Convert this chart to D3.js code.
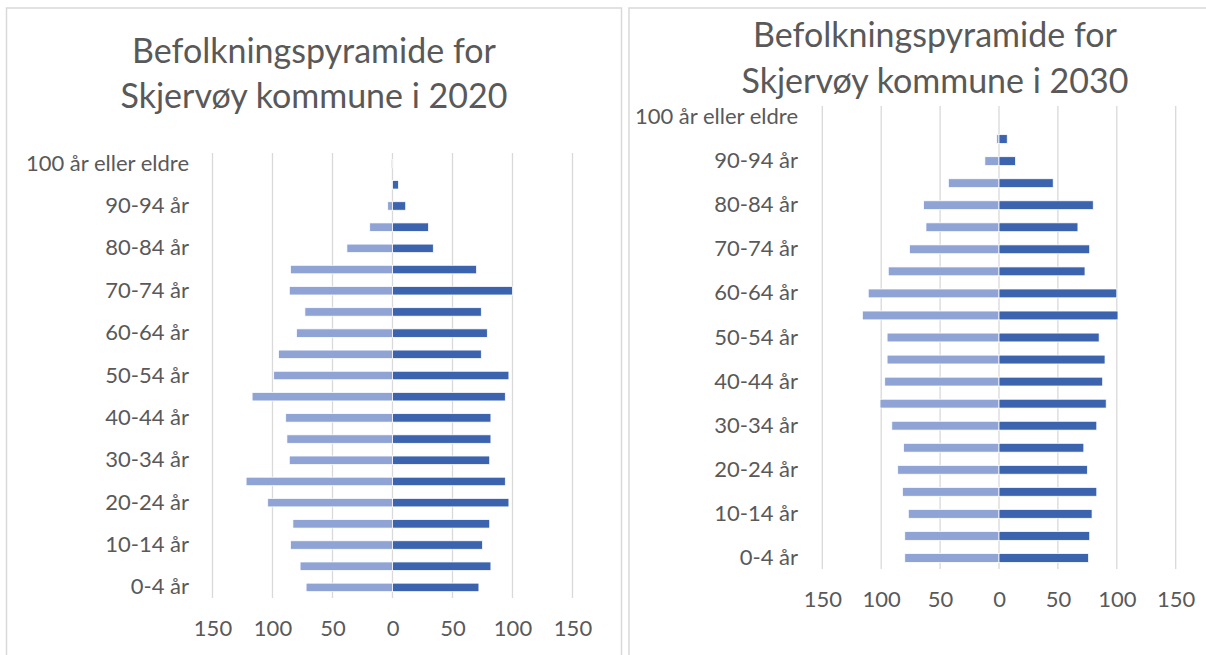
<!DOCTYPE html>
<html>
<head>
<meta charset="utf-8">
<script src="https://cdn.jsdelivr.net/npm/d3@7"></script>
<style>
body { margin: 0; background: #fff; }
svg { display: block; font-family: Lato, "Open Sans", sans-serif; }
</style>
</head>
<body>
<svg width="1206" height="655"></svg>
<script>
// age groups, bottom to top
const ageGroups = ["0-4 år", "5-9 år", "10-14 år", "15-19 år", "20-24 år", "25-29 år", "30-34 år",
  "35-39 år", "40-44 år", "45-49 år", "50-54 år", "55-59 år", "60-64 år", "65-69 år", "70-74 år",
  "75-79 år", "80-84 år", "85-89 år", "90-94 år", "95-99 år", "100 år eller eldre"];

// light bars (left side) and dark bars (right side)
const left2020  = [72, 77, 85, 83, 104, 122, 86, 88, 89, 117, 99, 95, 80, 73, 86, 85, 38, 19, 4, 0, 1];
const right2020 = [72, 82, 75, 81, 97, 94, 81, 82, 82, 94, 97, 74, 79, 74, 100, 70, 34, 30, 11, 5, 0];
const left2030  = [80, 80, 77, 82, 86, 81, 91, 101, 97, 95, 95, 116, 111, 94, 76, 62, 64, 43, 12, 2, 0];
const right2030 = [76, 77, 79, 83, 75, 72, 83, 91, 88, 90, 85, 101, 100, 73, 77, 67, 80, 46, 14, 7, 0];

const xTicks = [-150, -100, -50, 0, 50, 100, 150];
const title2020 = ["Befolkningspyramide for", "Skjervøy kommune i 2020"];
const title2030 = ["Befolkningspyramide for", "Skjervøy kommune i 2030"];

const textColor = "#595959";
const gridColor = "#d9d9d9";
const lightBlue = "#8fa4d5";
const darkBlue = "#3c64ae";

const svg = d3.select("svg");

function drawPanel(p) {
  const g = svg.append("g");

  // frame
  g.append("rect")
    .attr("x", p.frameX).attr("y", 8)
    .attr("width", p.frameW).attr("height", 700)
    .attr("fill", "#fff")
    .attr("stroke", gridColor).attr("stroke-width", 1.5);

  // title
  g.append("text")
    .attr("x", p.titleX)
    .attr("text-anchor", "middle")
    .attr("fill", textColor)
    .attr("font-size", 34)
    .selectAll("tspan")
    .data(p.title)
    .join("tspan")
    .attr("x", p.titleX)
    .attr("y", (d, i) => p.titleY[i])
    .text(d => d);

  const x = d3.scaleLinear().domain([-150, 150]).range([p.x0, p.x1]);
  const y = d3.scaleBand()
    .domain(ageGroups.slice().reverse())
    .range([p.top, p.bottom])
    .paddingInner(0.6)
    .paddingOuter(0.3);

  // gridlines
  g.append("g")
    .selectAll("line")
    .data(xTicks)
    .join("line")
    .attr("x1", d => x(d)).attr("x2", d => x(d))
    .attr("y1", p.top).attr("y2", p.bottom)
    .attr("stroke", gridColor)
    .attr("stroke-width", 1.3);

  const rows = ageGroups.map((a, i) => ({ age: a, l: p.left[i], r: p.right[i] }));

  g.append("g")
    .selectAll("rect")
    .data(rows)
    .join("rect")
    .attr("x", d => x(-d.l))
    .attr("y", d => y(d.age))
    .attr("width", d => x(0) - x(-d.l))
    .attr("height", y.bandwidth())
    .attr("fill", lightBlue)
    .attr("stroke", "#fff").attr("stroke-width", 0.75);

  g.append("g")
    .selectAll("rect")
    .data(rows)
    .join("rect")
    .attr("x", x(0))
    .attr("y", d => y(d.age))
    .attr("width", d => x(d.r) - x(0))
    .attr("height", y.bandwidth())
    .attr("fill", darkBlue)
    .attr("stroke", "#fff").attr("stroke-width", 0.75);

  // category axis, every other label
  const yAxis = g.append("g")
    .attr("transform", `translate(${p.labelRight},0)`)
    .call(d3.axisLeft(y)
      .tickValues(ageGroups.filter((a, i) => i % 2 === 0))
      .tickSize(0).tickPadding(0));
  yAxis.select(".domain").remove();
  yAxis.selectAll("text")
    .attr("font-family", "Lato, 'Open Sans', sans-serif")
    .attr("font-size", 22)
    .attr("fill", textColor);

  // value axis
  const xAxis = g.append("g")
    .attr("transform", `translate(0,${p.tickY})`)
    .call(d3.axisBottom(x)
      .tickValues(xTicks)
      .tickFormat(d => Math.abs(d))
      .tickSize(0));
  xAxis.select(".domain").remove();
  xAxis.selectAll("text")
    .attr("y", 0).attr("dy", 0)
    .attr("font-family", "Lato, 'Open Sans', sans-serif")
    .attr("font-size", 22)
    .attr("fill", textColor);
}

drawPanel({
  frameX: 6.5, frameW: 615,
  titleX: 314, titleY: [63, 107.5], title: title2020,
  x0: 212.5, x1: 572.5, top: 153, bottom: 598,
  labelRight: 189, tickY: 636,
  left: left2020, right: right2020
});

drawPanel({
  frameX: 629, frameW: 620,
  titleX: 935, titleY: [46.5, 93], title: title2030,
  x0: 822.3, x1: 1175.7, top: 106, bottom: 569,
  labelRight: 798, tickY: 607,
  left: left2030, right: right2030
});
</script>
</body>
</html>
